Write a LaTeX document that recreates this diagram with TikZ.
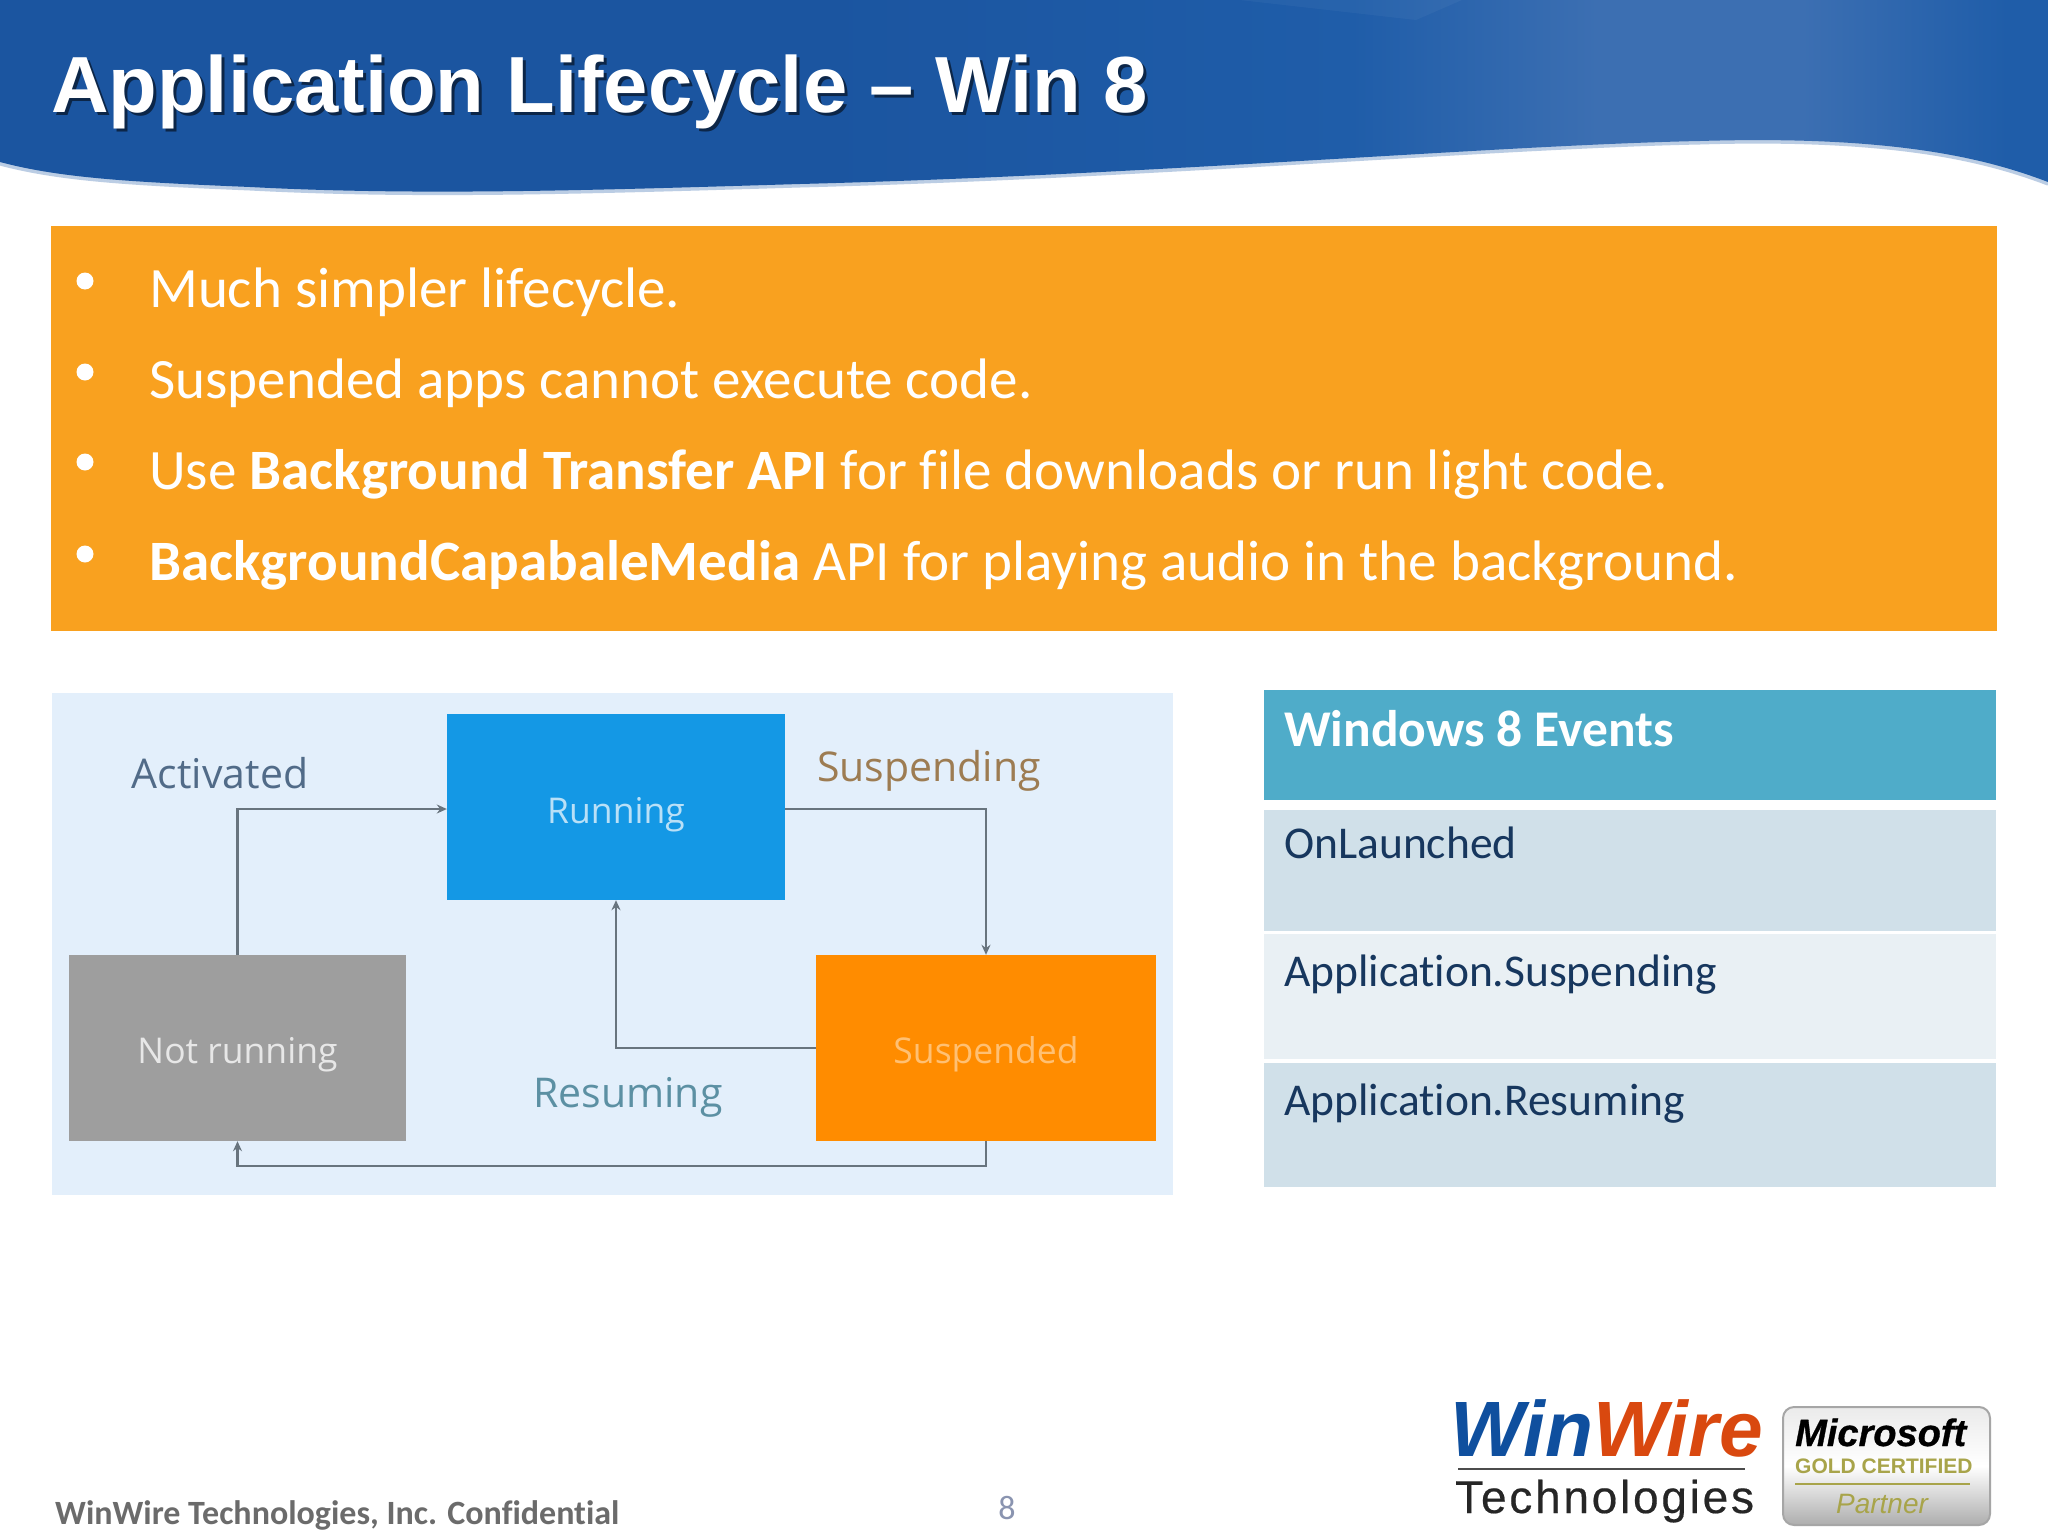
\documentclass[tikz,border=0pt]{standalone}
\usepackage{fontspec}
\setmainfont[Ligatures={NoCommon}]{Carlito}
\newfontfamily\arialf{Liberation Sans}
\newfontfamily\arialth[LetterSpace=6,FakeBold=0.4]{Liberation Sans}
\newfontfamily\arialms[FakeBold=0.8,BoldFont={Liberation Sans Bold},ItalicFont={Liberation Sans Bold Italic}]{Liberation Sans}
\newfontfamily\segoef{Open Sans}
\usetikzlibrary{arrows.meta}
\definecolor{bandor}{HTML}{F9A11F}
\definecolor{tblhead}{HTML}{4FACC9}
\definecolor{rowa}{HTML}{D0E0E9}
\definecolor{rowb}{HTML}{E9F0F4}
\definecolor{navy}{HTML}{17375E}
\definecolor{panel}{HTML}{E3EFFB}
\definecolor{runblue}{HTML}{1498E5}
\definecolor{notgrey}{HTML}{9E9E9E}
\definecolor{susor}{HTML}{FF8C00}
\definecolor{conn}{HTML}{68747E}
\definecolor{wwblue}{HTML}{0F4F9E}
\definecolor{wwred}{HTML}{D9480F}
\definecolor{goldc}{HTML}{A8A44A}
\definecolor{pagec}{HTML}{8A94B0}
\definecolor{hdra}{HTML}{1B55A0}
\definecolor{hdrb}{HTML}{1F5DA9}
\definecolor{hdrc}{HTML}{3C6FB2}
\pgfdeclarehorizontalshading{hdrshade}{100bp}{
 color(0bp)=(hdra);color(45bp)=(hdra);color(58bp)=(hdrb);color(64bp)=(hdrc);color(69bp)=(hdrc);color(74bp)=(hdrb);color(100bp)=(hdrb)}
\newcommand{\statetext}[3]{\raisebox{#1}[0pt][0pt]{\textcolor{#2}{#3}}}
\tikzset{
 state/.style={rectangle,inner sep=0pt,text=white,font=\segoef\fontsize{35.5}{44}\selectfont,minimum height=186pt},
 flow/.style={draw=conn,line width=2.4pt,-{Stealth[length=10pt,width=9pt]}},
 evlabel/.style={font=\segoef\fontsize{41}{46}\selectfont,anchor=base},
 bullettext/.style={anchor=base west,inner sep=0pt,text=white,font=\fontsize{57.1}{62}\selectfont},
 dot/.style={circle,fill=white,inner sep=0pt,minimum size=17pt},
 cell/.style={rectangle,inner sep=0pt,anchor=north west,minimum width=732pt},
 celltext/.style={anchor=base west,inner sep=0pt,text=navy,font=\fontsize{45.5}{50}\selectfont},
 badgeline/.style={line width=2pt}
}
\begin{document}
\begin{tikzpicture}[x=1pt,y=-1pt]
\useasboundingbox (0,0) rectangle (2048,1536);
\fill[white] (0,0) rectangle (2048,1536);
% header wave
\draw[color=hdrc!35!white,line width=7pt,line cap=round] (2048,182)
  .. controls (1990,160) and (1900,135) .. (1700,141)
  .. controls (1500,145) and (1150,175) .. (800,184)
  .. controls (600,190) and (420,196) .. (250,187)
  .. controls (130,182) and (60,178) .. (0,162);
\draw[draw=none,shading=hdrshade] (0,0) -- (2048,0) -- (2048,182)
  .. controls (1990,160) and (1900,135) .. (1700,141)
  .. controls (1500,145) and (1150,175) .. (800,184)
  .. controls (600,190) and (420,196) .. (250,187)
  .. controls (130,182) and (60,178) .. (0,162) -- cycle;
\fill[white,opacity=0.04] (1240,0) -- (1416,20) -- (1462,0) -- cycle;
\node[anchor=base west,inner sep=0pt,text=black!55!hdra,font=\arialf\bfseries\fontsize{79.6}{90}\selectfont] (titleshadow) at (54,116) {Application Lifecycle – Win 8};
\node[anchor=base west,inner sep=0pt,text=white,font=\arialf\bfseries\fontsize{79.6}{90}\selectfont] (title) at (51,113) {Application Lifecycle – Win 8};
% orange band
\fill[bandor] (51,226) rectangle (1997,631);
\node[dot] (d1) at (85,281) {};
\node[dot] (d2) at (85,372) {};
\node[dot] (d3) at (85,462) {};
\node[dot] (d4) at (85,554) {};
\node[bullettext] (b1) at (149,307) {Much simpler lifecycle.};
\node[bullettext] (b2) at (149,398) {Suspended apps cannot execute code.};
\node[bullettext] (b3) at (149,489) {Use \textbf{Background Transfer API} for file downloads or run light code.};
\node[bullettext] (b4) at (149,580) {\textbf{BackgroundCapabaleMedia} API for playing audio in the background.};
% diagram
\fill[panel] (52,693) rectangle (1173,1195);
\node[state,fill=runblue,minimum width=338pt] (run) at (616,807) {\statetext{-16pt}{white!70!runblue}{Running}};
\node[state,fill=notgrey,minimum width=337pt] (notrun) at (237.5,1048) {\statetext{-15pt}{white!75!notgrey}{Not running}};
\node[state,fill=susor,minimum width=340pt] (susp) at (986,1048) {\statetext{-15pt}{white!45!susor}{Suspended}};
\draw[flow] (notrun.north) |- ([yshift=-2pt]run.west);
\draw[flow] ([yshift=-2pt]run.east) -| (susp.north);
\draw[flow] (susp.west) -| (run.south);
\draw[flow] (susp.south) -- ++(0,25) -| (notrun.south);
\node[evlabel,text=hdra!30!conn] (lact) at (220,788) {Activated};
\node[evlabel,text=susor!35!conn] (lsus) at (929,781) {Suspending};
\node[evlabel,text=tblhead!50!conn] (lres) at (628,1107) {Resuming};
% table
\node[cell,fill=tblhead,minimum height=110pt] (th) at (1264,690) {};
\node[cell,fill=rowa,minimum height=121pt] (r1) at (1264,810) {};
\node[cell,fill=rowb,minimum height=125pt] (r2) at (1264,934) {};
\node[cell,fill=rowa,minimum height=124pt] (r3) at (1264,1063) {};
\node[celltext,text=white,font=\bfseries\fontsize{51.5}{56}\selectfont] (tht) at (1284,746) {Windows 8 Events};
\node[celltext] (r1t) at (1284,858) {OnLaunched};
\node[celltext] (r2t) at (1284,986) {Application.Suspending};
\node[celltext] (r3t) at (1284,1115) {Application.Resuming};
% footer
\node[anchor=base west,inner sep=0pt,text=black!58,font=\bfseries\fontsize{34}{40}\selectfont] (foot) at (55,1524) {WinWire Technologies, Inc. Confidential};
\node[anchor=base,inner sep=0pt,text=pagec,font=\fontsize{34}{40}\selectfont] (pg) at (1007,1519) {8};
% logo
\node[anchor=base west,inner sep=0pt,font=\arialf\bfseries\itshape\fontsize{78.5}{84}\selectfont] (ww) at (1450,1456) {\textcolor{wwblue}{Win}\textcolor{wwred}{Wire}};
\draw[black!70,line width=2.5pt] (1458,1469) -- (1745,1469);
\node[anchor=base west,inner sep=0pt,text=black!85,font=\arialth\fontsize{46}{52}\selectfont] (wt) at (1455,1513) {Technologies};
% badge
\draw[black!35,line width=2pt,top color=black!8,bottom color=black!32,middle color=white,rounded corners=11pt] (1783,1407) rectangle (1990,1525);
\node[anchor=base west,inner sep=0pt,text=black,font=\arialms\bfseries\itshape\fontsize{38}{42}\selectfont] (ms) at (1795,1446) {Microsoft};
\node[anchor=base west,inner sep=0pt,text=goldc,font=\arialf\bfseries\fontsize{21}{26}\selectfont] (gc) at (1795,1473) {GOLD CERTIFIED};
\draw[goldc,badgeline] (1795,1484) -- (1970,1484);
\node[anchor=base,inner sep=0pt,text=goldc,font=\arialf\itshape\fontsize{28}{30}\selectfont] (pt) at (1882,1513) {Partner};
\end{tikzpicture}
\end{document}
